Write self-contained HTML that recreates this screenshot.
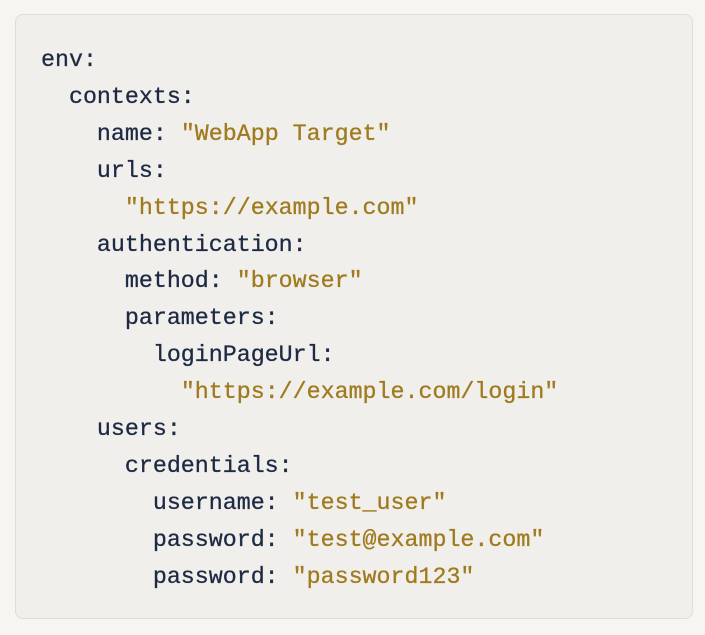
<!DOCTYPE html>
<html><head><style>
html,body{margin:0;padding:0;width:705px;height:635px;background:#f6f5f1;overflow:hidden}
.box{position:absolute;left:15px;top:14px;width:678px;height:605px;background:#f0efeb;border:1px solid #dddcd6;border-radius:8px;box-sizing:border-box}
pre{position:absolute;left:41px;top:42px;margin:0;font-family:"Liberation Mono",monospace;font-size:23.3px;line-height:36.9px;color:#1e2a44;-webkit-text-stroke:0.3px #1e2a44}
.s{color:#a07a1e;-webkit-text-stroke:0.3px #a07a1e}
</style></head><body>
<div class="box"></div>
<pre>env:
  contexts:
    name: <span class="s">"WebApp Target"</span>
    urls:
      <span class="s">"https://example.com"</span>
    authentication:
      method: <span class="s">"browser"</span>
      parameters:
        loginPageUrl:
          <span class="s">"https://example.com/login"</span>
    users:
      credentials:
        username: <span class="s">"test_user"</span>
        password: <span class="s">"test@example.com"</span>
        password: <span class="s">"password123"</span></pre>
</body></html>
